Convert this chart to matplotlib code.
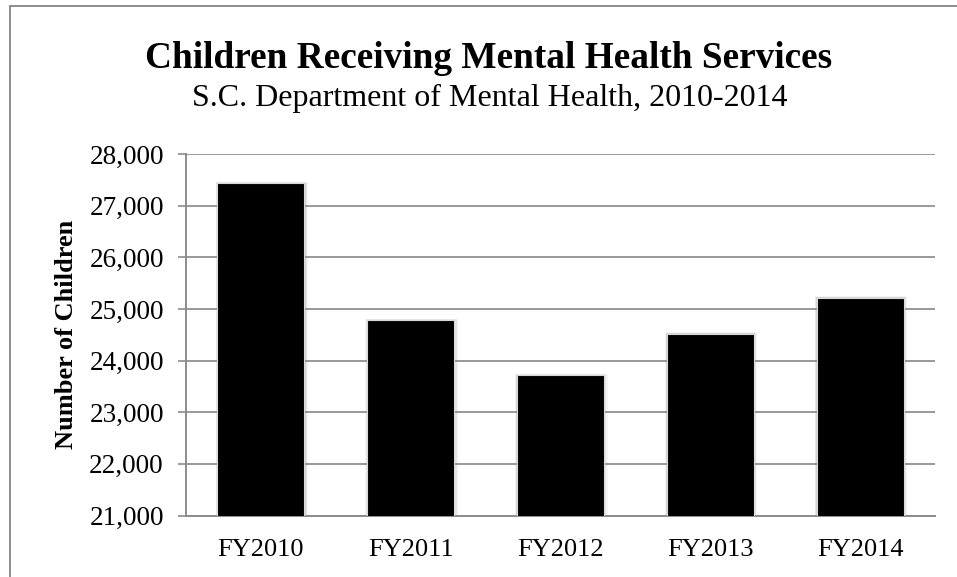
import matplotlib.pyplot as plt
from matplotlib.patches import Rectangle
from matplotlib.lines import Line2D

years = ["FY2010", "FY2011", "FY2012", "FY2013", "FY2014"]
children = [27440, 24780, 23720, 24520, 25220]
yticks = [21000, 22000, 23000, 24000, 25000, 26000, 27000, 28000]

plt.rcParams['font.family'] = ['Liberation Serif', 'DejaVu Serif']

fig = plt.figure(figsize=(9.57, 5.77), dpi=100)
ax = fig.add_axes([186/957, 1-515.5/577, (935-186)/957, (515.5-154)/577])

grey = '#8c8c8c'
x = range(len(years))
w = 0.58

# soft shadow behind the bars
for i, v in zip(x, children):
    for k, a in [(3, 0.08), (2, 0.12), (1, 0.18)]:
        ax.add_patch(Rectangle((i - w/2 - k*0.004, 21000), w + k*0.012, v - 21000 + k*8,
                               facecolor='#808080', edgecolor='none', alpha=a, zorder=2))
ax.bar(x, children, width=w, bottom=0, color='black', edgecolor='#d9d9d9',
       linewidth=0.8, zorder=3)

ax.set_ylim(21000, 28000)
ax.set_xlim(-0.5, 4.5)
ax.set_yticks(yticks)
ax.set_yticklabels([f"{t:,}" for t in yticks], fontsize=19.5)
ax.set_xticks(list(x))
ax.set_xticklabels(years, fontsize=19)
ax.tick_params(axis='y', length=6, width=1.2, color=grey, pad=10)
ax.tick_params(axis='x', length=0, pad=17)
ax.grid(axis='y', color='#999999', linewidth=1.4, zorder=1)
for s in ['top', 'right']:
    ax.spines[s].set_visible(False)
for s in ['left', 'bottom']:
    ax.spines[s].set_color(grey)
    ax.spines[s].set_linewidth(1.4)
ax.set_ylabel("Number of Children", fontsize=19, fontweight='bold', labelpad=8)

fig.text(0.511, 0.898, "Children Receiving Mental Health Services", ha='center', va='center',
         fontsize=26.8, fontweight='bold')
fig.text(0.512, 0.830, "S.C. Department of Mental Health, 2010-2014", ha='center', va='center',
         fontsize=23)

# outer frame (left and top visible)
fig.add_artist(Line2D([10/957, 10/957], [0, 1-6/577], color=grey, linewidth=1.4))
fig.add_artist(Line2D([10/957, 1], [1-6/577, 1-6/577], color=grey, linewidth=1.4))

fig.savefig("out.png", dpi=100)
